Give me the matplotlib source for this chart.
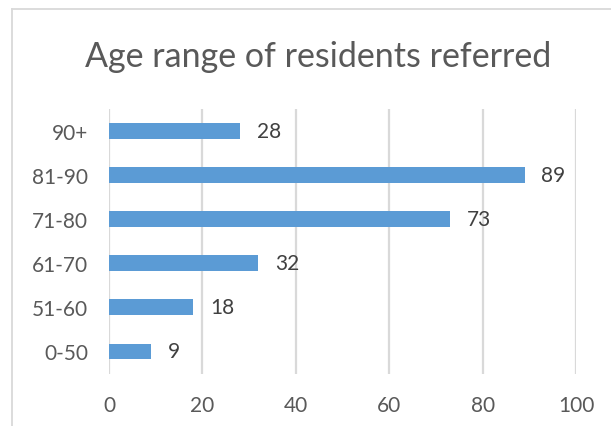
import matplotlib
matplotlib.use("Agg")
import matplotlib.pyplot as plt
from matplotlib.lines import Line2D

plt.rcParams['font.family'] = ['Lato', 'DejaVu Sans']

categories = ["0-50", "51-60", "61-70", "71-80", "81-90", "90+"]
values = [9, 18, 32, 73, 89, 28]
x_ticks = [0, 20, 40, 60, 80, 100]

W, H = 611, 427
fig = plt.figure(figsize=(W / 100, H / 100), dpi=100)

# Plot area in pixel coordinates
left, right, top, bottom = 109, 576, 110, 374.5
ax = fig.add_axes([left / W, 1 - bottom / H, (right - left) / W, (bottom - top) / H])

bar_color = "#5B9BD5"
text_color = "#595959"
grid_color = "#D9D9D9"

ypos = list(range(len(categories)))
ax.barh(ypos, values, height=0.36, color=bar_color, zorder=3)
ax.set_xlim(0, 100)
ax.set_ylim(-0.5, len(categories) - 0.5)

ax.set_xticks(x_ticks)
ax.set_xticklabels([str(t) for t in x_ticks])
ax.set_yticks(ypos)
ax.set_yticklabels(categories)
ax.tick_params(axis='both', length=0, labelsize=15, colors=text_color)
ax.tick_params(axis='x', pad=15.5)
ax.tick_params(axis='y', pad=15)

ax.grid(axis='x', color=grid_color, linewidth=1.6, zorder=0)
for s in ax.spines.values():
    s.set_visible(False)

for y, v in zip(ypos, values):
    ax.text(v + 3.6, y, str(v), va='center', ha='left', fontsize=15, color="#404040")

fig.text(318 / W, 1 - 57 / H, "Age range of residents referred", ha='center', va='center',
         fontsize=24.5, color=text_color)

# Chart frame
border = "#D9D9D9"
fig.add_artist(Line2D([11.5 / W, 1.0], [1 - 10 / H, 1 - 10 / H], transform=fig.transFigure,
                      color=border, linewidth=1.3))
fig.add_artist(Line2D([11.5 / W, 11.5 / W], [0, 1 - 10 / H], transform=fig.transFigure,
                      color=border, linewidth=1.3))

fig.savefig("out.png", dpi=100)
